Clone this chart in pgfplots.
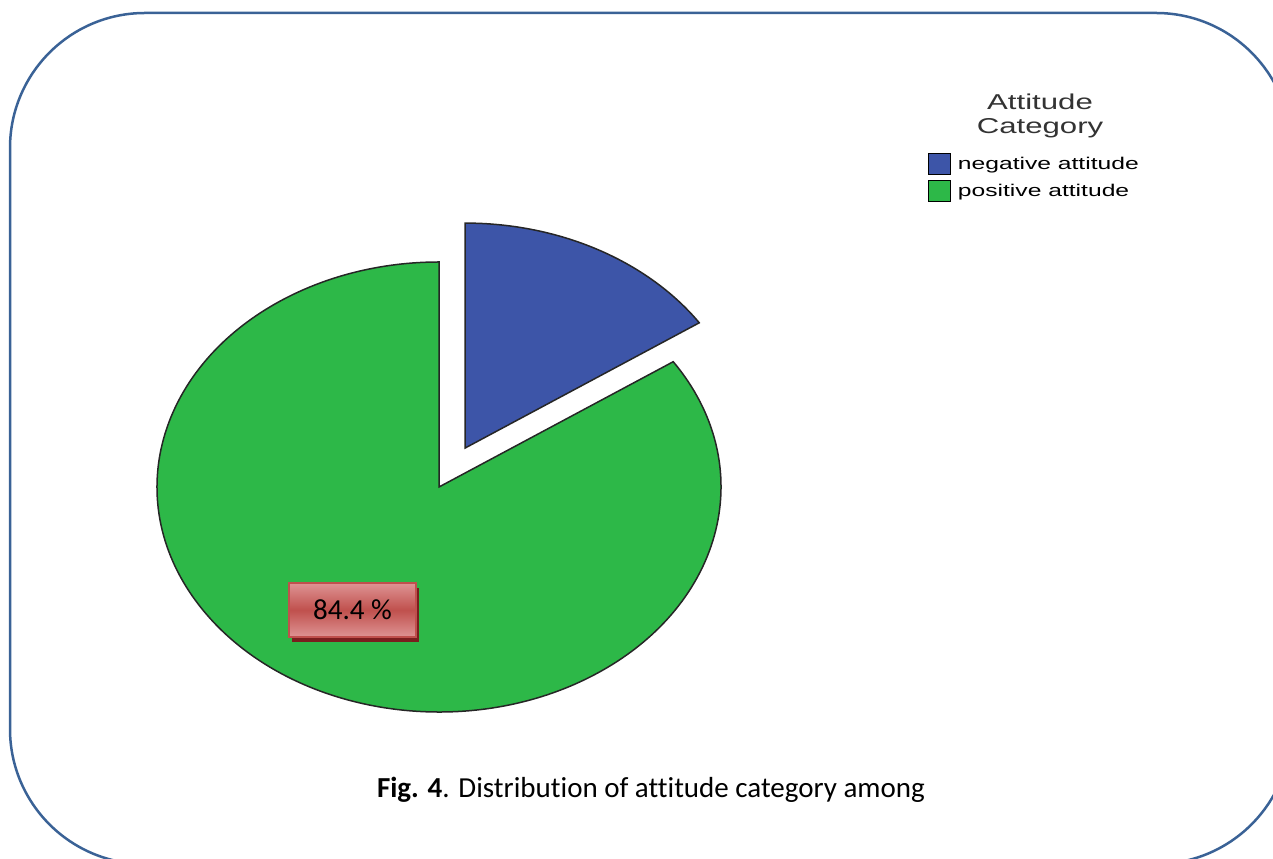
\documentclass[border=0pt]{standalone}
\usepackage{pgfplots}
\pgfplotsset{compat=1.18}
\usepackage{pgfplotstable}
\usetikzlibrary{shadows}
\usepackage{fontspec}
\setmainfont{Carlito}[Ligatures=NoCommon]
\newfontfamily\legendfont[FakeStretch=1.45]{Liberation Sans}

\definecolor{pieblue}{RGB}{61,85,168}
\definecolor{piegreen}{RGB}{45,184,72}
\definecolor{frameblue}{RGB}{58,98,150}
\definecolor{boxlight}{RGB}{222,148,148}
\definecolor{boxdark}{RGB}{192,80,77}
\definecolor{boxshadow}{RGB}{122,30,30}

% percent of respondents per attitude category
\pgfplotstableread{
category percent
negative 15.6
positive 84.4
}\piedata

\begin{document}
\begin{tikzpicture}[x=1bp,y=1bp]
\useasboundingbox (0,0) rectangle (1273,859);
\begin{scope}
  \clip (0,0) rectangle (1273,859);
  \draw[frameblue, line width=2.5bp, rounded corners=135bp] (10,-5) rectangle (1291,846);
\end{scope}

\pgfplotstablegetelem{0}{percent}\of\piedata \let\pneg\pgfplotsretval
\pgfplotstablegetelem{1}{percent}\of\piedata \let\ppos\pgfplotsretval
\pgfmathsetmacro\asplit{90-3.6*\pneg}
\pgfmathsetmacro\amid{90-1.8*\pneg}

\begin{axis}[
    at={(0,0)}, anchor=south west,
    scale only axis, x=1bp, y=1bp,
    xmin=0, xmax=1273, ymin=0, ymax=859,
    hide axis, clip=false,
    legend style={at={(0.7290,0.8219)}, anchor=north west,
        draw=none, fill=none, inner sep=0pt, outer sep=0pt,
        column sep=7bp, row sep=5bp,
        nodes={inner sep=0pt},
        cells={anchor=west},
        font=\legendfont\fontsize{17bp}{20bp}\selectfont},
    legend image code/.code={\draw[#1, line width=0.9bp] (0bp,-10.5bp) rectangle (22bp,10.5bp);},
]

% positive slice
\filldraw[fill=piegreen, draw=black!85, line width=1.5bp]
    (axis cs:439,372) -- ++(\asplit:282bp and 225bp)
    arc[start angle=\asplit, end angle=-270, x radius=282bp, y radius=225bp] -- cycle;
% negative slice, pulled out
\filldraw[fill=pieblue, draw=black!85, line width=1.5bp, shift={(\amid:55.3bp and 44.1bp)}]
    (axis cs:439,372) -- ++(\asplit:282bp and 225bp)
    arc[start angle=\asplit, end angle=90, x radius=282bp, y radius=225bp] -- cycle;

\node[draw=boxdark, line width=1.5bp, top color=boxlight, bottom color=boxlight,
      middle color=boxdark, minimum width=127bp, minimum height=54bp, inner sep=0pt,
      drop shadow={shadow xshift=3bp, shadow yshift=-5bp, fill=boxshadow, opacity=1},
      font=\fontsize{29bp}{34bp}\selectfont]
    at (axis cs:352.5,249) {\ppos\ \%};

\node[anchor=base, font=\legendfont\fontsize{21.5bp}{25bp}\selectfont, text=black!80]
    at (axis cs:1040,749) {Attitude};
\node[anchor=base, font=\legendfont\fontsize{21.5bp}{25bp}\selectfont, text=black!80]
    at (axis cs:1040,725) {Category};

\addlegendimage{fill=pieblue, draw=black}
\addlegendentry{negative attitude}
\addlegendimage{fill=piegreen, draw=black}
\addlegendentry{positive attitude}

\node[anchor=base, font=\fontsize{29bp}{33bp}\selectfont]
    at (axis cs:651,61) {\textbf{Fig. 4}. Distribution of attitude category among};
\end{axis}
\end{tikzpicture}
\end{document}
